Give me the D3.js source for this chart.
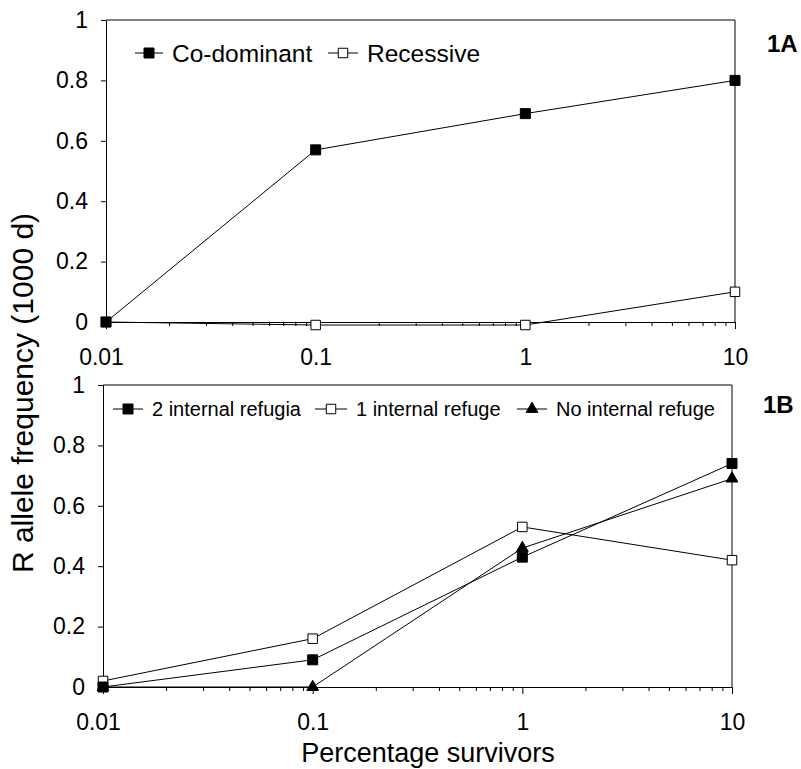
<!DOCTYPE html>
<html>
<head>
<meta charset="utf-8">
<script src="https://cdn.jsdelivr.net/npm/d3@7"></script>
<style>
  html, body { margin: 0; padding: 0; background: #fff; }
  svg { display: block; font-family: "Liberation Sans", Arial, Helvetica, sans-serif; }
</style>
</head>
<body>
<svg id="chart" width="801" height="769"></svg>
<script>
// ---- Data ----
const survivors = [0.01, 0.1, 1, 10];
const xTickLabels = ["0.01", "0.1", "1", "10"];
const yTicks = [0, 0.2, 0.4, 0.6, 0.8, 1];

// Panel 1A
const coDominant = [0, 0.57, 0.69, 0.80];
const recessive  = [0, -0.01, -0.01, 0.10];

// Panel 1B
const twoRefugia = [0, 0.09, 0.43, 0.74];
const oneRefuge  = [0.02, 0.16, 0.53, 0.42];
const noRefuge   = [0, 0, 0.46, 0.69];

const panelLabels = ["1A", "1B"];
const yTitle = "R allele frequency (1000 d)";
const xTitle = "Percentage survivors";

// ---- Drawing ----
const svg = d3.select("#chart");
const FONT_TICK = 23;

function drawPanel(opt) {
  const x = d3.scaleLog().domain([0.01, 10]).range([opt.left, opt.right]);
  const y = d3.scaleLinear().domain([0, 1]).range([opt.bottom, opt.top]);
  const g = svg.append("g");

  // frame (top and right)
  g.append("path")
    .attr("d", d3.line()([[x(0.01), y(1)], [x(10), y(1)], [x(10), y(0)]]))
    .attr("fill", "none").attr("stroke", "#000").attr("stroke-width", 1);

  // Y axis
  const yAxis = d3.axisLeft(y).tickValues(yTicks).tickFormat(d3.format("~g"))
    .tickSize(5).tickPadding(13).tickSizeOuter(0);
  const ya = g.append("g").attr("transform", `translate(${x(0.01)},0)`).call(yAxis);
  ya.selectAll("text").attr("font-size", FONT_TICK).attr("fill", "#000")
    .attr("font-family", "Liberation Sans, Arial, sans-serif");
  ya.selectAll("line,path").attr("stroke", "#000");

  // X axis minor ticks
  const minor = [];
  for (let dec = 0.01; dec < 10; dec *= 10) {
    for (let k = 2; k <= 9; k++) minor.push(+(dec * k).toPrecision(3));
  }
  const xMinor = d3.axisBottom(x).tickValues(minor).tickFormat("").tickSize(4).tickSizeOuter(0);
  const xm = g.append("g").attr("transform", `translate(0,${y(0)})`).call(xMinor);
  xm.selectAll("line,path").attr("stroke", "#000");

  // X axis majors
  const xAxis = d3.axisBottom(x).tickValues(survivors)
    .tickFormat((d, i) => xTickLabels[i]).tickSize(7).tickPadding(opt.xPad).tickSizeOuter(0);
  const xa = g.append("g").attr("transform", `translate(0,${y(0)})`).call(xAxis);
  xa.selectAll("text").attr("font-size", FONT_TICK).attr("fill", "#000")
    .attr("font-family", "Liberation Sans, Arial, sans-serif")
    .attr("dx", (d, i) => i === 0 ? -5 : 0);
  xa.selectAll("line,path").attr("stroke", "#000");

  // series
  const line = d3.line().x((d, i) => x(survivors[i])).y(d => y(d));
  opt.series.forEach(s => {
    g.append("path").datum(s.values).attr("d", line)
      .attr("fill", "none").attr("stroke", "#000").attr("stroke-width", 1);
  });
  opt.series.forEach(s => {
    g.selectAll(null).data(s.values).join("path")
      .attr("transform", (d, i) => `translate(${x(survivors[i])},${y(d)})`)
      .attr("d", d3.symbol(s.shape, s.size)())
      .attr("fill", s.fill).attr("stroke", "#000").attr("stroke-width", 1);
  });

  // legend
  opt.legend.forEach(l => {
    const lg = g.append("g").attr("transform", `translate(${l.x},${opt.legendY})`);
    lg.append("line").attr("x1", 0).attr("x2", l.len).attr("y1", 0).attr("y2", 0)
      .attr("stroke", "#000").attr("stroke-width", 1);
    lg.append("path").attr("transform", `translate(${l.len / 2},0)`)
      .attr("d", d3.symbol(l.s.shape, l.s.size)())
      .attr("fill", l.s.fill).attr("stroke", "#000").attr("stroke-width", 1);
    lg.append("text").attr("x", l.len + 9).attr("y", 0).attr("dy", "0.35em")
      .attr("font-size", opt.legendFont).attr("fill", "#000").text(l.s.name);
  });

  // panel label
  g.append("text").attr("x", opt.labelX).attr("y", opt.labelY)
    .attr("font-size", 24).attr("font-weight", "bold").attr("fill", "#000")
    .text(opt.label);
}

const sqFilled = { shape: d3.symbolSquare, size: 100, fill: "#000" };
const sqOpen = { shape: d3.symbolSquare, size: 90, fill: "#fff" };
const tri = { shape: d3.symbolTriangle, size: 60, fill: "#000" };

const sCo = Object.assign({ name: "Co-dominant", values: coDominant }, sqFilled);
const sRe = Object.assign({ name: "Recessive", values: recessive }, sqOpen);
drawPanel({
  left: 106, right: 735, top: 20, bottom: 322, xPad: 20,
  series: [sRe, sCo],
  legend: [{ x: 135, len: 28, s: sCo }, { x: 328, len: 30, s: sRe }],
  legendY: 53, legendFont: 24.5,
  label: panelLabels[0], labelX: 767, labelY: 52
});

const s2 = Object.assign({ name: "2 internal refugia", values: twoRefugia }, sqFilled);
const s1 = Object.assign({ name: "1 internal refuge", values: oneRefuge }, sqOpen);
const s0 = Object.assign({ name: "No internal refuge", values: noRefuge }, tri);
drawPanel({
  left: 103, right: 732, top: 385, bottom: 687, xPad: 20,
  series: [s0, s1, s2],
  legend: [{ x: 113, len: 30, s: s2 }, { x: 315, len: 32, s: s1 }, { x: 517, len: 30, s: s0 }],
  legendY: 409, legendFont: 20,
  label: panelLabels[1], labelX: 763, labelY: 413
});

// axis titles
svg.append("text")
  .attr("transform", "translate(33,393) rotate(-90)")
  .attr("text-anchor", "middle").attr("font-size", 30).attr("fill", "#000")
  .text(yTitle);
svg.append("text")
  .attr("x", 428).attr("y", 762)
  .attr("text-anchor", "middle").attr("font-size", 27).attr("fill", "#000")
  .text(xTitle);
</script>
</body>
</html>
